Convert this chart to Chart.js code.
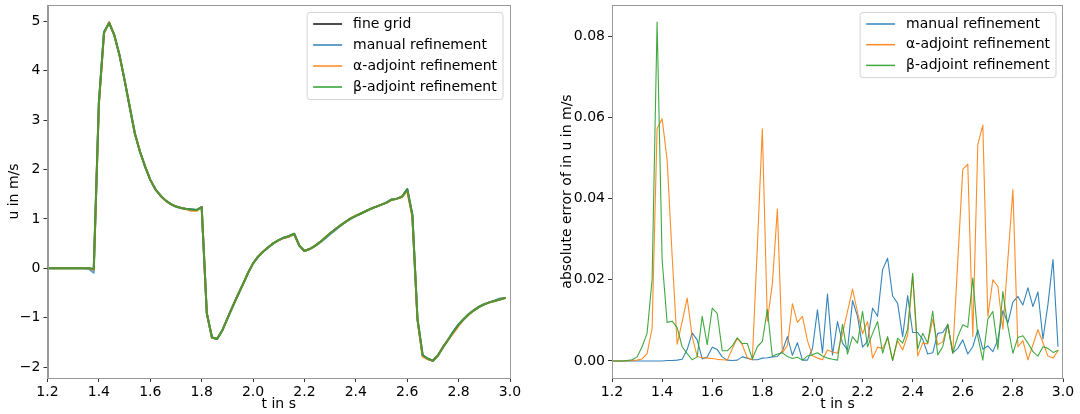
<!DOCTYPE html>
<html><head><meta charset="utf-8">
<script src="https://cdn.jsdelivr.net/npm/chart.js@4/dist/chart.umd.min.js"></script>
<style>
html,body{margin:0;padding:0;background:#fff;width:1080px;height:414px;overflow:hidden}
.c{position:absolute;top:0;width:540px;height:414px}
</style></head><body>
<div class="c" style="left:0"><canvas id="left" width="540" height="414"></canvas></div>
<div class="c" style="left:540px"><canvas id="right" width="540" height="414"></canvas></div>
<script>
// ---- data ----
const t = [1.20,1.22,1.24,1.26,1.28,1.30,1.32,1.34,1.36,1.38,1.40,1.42,1.44,1.46,1.48,1.50,1.52,1.54,1.56,1.58,
1.60,1.62,1.64,1.66,1.68,1.70,1.72,1.74,1.76,1.78,1.80,1.82,1.84,1.86,1.88,1.90,1.92,1.94,1.96,1.98,
2.00,2.02,2.04,2.06,2.08,2.10,2.12,2.14,2.16,2.18,2.20,2.22,2.24,2.26,2.28,2.30,2.32,2.34,2.36,2.38,
2.40,2.42,2.44,2.46,2.48,2.50,2.52,2.54,2.56,2.58,2.60,2.62,2.64,2.66,2.68,2.70,2.72,2.74,2.76,2.78,
2.80,2.82,2.84,2.86,2.88,2.90,2.92,2.94,2.96,2.98];

const uFine = [0,0,0,0,0,0,0,0,0,-0.02,3.35,4.78,4.97,4.72,4.32,3.81,3.27,2.73,2.36,2.06,
1.79,1.60,1.47,1.37,1.30,1.25,1.22,1.20,1.19,1.18,1.24,-0.91,-1.40,-1.43,-1.26,-1.02,-0.78,-0.55,-0.33,-0.10,
0.10,0.24,0.34,0.43,0.51,0.57,0.62,0.65,0.70,0.46,0.35,0.39,0.45,0.53,0.62,0.71,0.79,0.87,0.94,1.01,
1.06,1.11,1.16,1.21,1.25,1.29,1.33,1.39,1.41,1.45,1.60,1.08,-1.04,-1.76,-1.83,-1.87,-1.76,-1.59,-1.44,-1.28,
-1.14,-1.03,-0.93,-0.85,-0.78,-0.73,-0.69,-0.66,-0.63,-0.60];

const uManual = [0,0,0,0,0,0,0,0,-0.01,-0.09,3.35,4.78,4.97,4.72,4.32,3.81,3.25,2.73,2.36,2.06,
1.79,1.60,1.47,1.37,1.30,1.25,1.22,1.20,1.19,1.18,1.24,-0.91,-1.40,-1.43,-1.26,-1.02,-0.78,-0.55,-0.33,-0.10,
0.10,0.23,0.34,0.42,0.51,0.57,0.62,0.65,0.69,0.46,0.35,0.39,0.45,0.52,0.60,0.69,0.77,0.86,0.94,1.00,
1.06,1.11,1.16,1.21,1.25,1.29,1.34,1.40,1.41,1.45,1.60,1.08,-1.04,-1.76,-1.83,-1.87,-1.76,-1.59,-1.43,-1.28,
-1.13,-1.02,-0.92,-0.84,-0.77,-0.72,-0.69,-0.65,-0.61,-0.60];

const uAlpha = [0,0,0,0,0,0,0,0,0,-0.03,3.30,4.75,4.99,4.72,4.32,3.81,3.27,2.73,2.36,2.06,
1.79,1.60,1.47,1.37,1.30,1.25,1.22,1.20,1.16,1.16,1.24,-0.91,-1.41,-1.42,-1.26,-1.02,-0.78,-0.55,-0.33,-0.10,
0.10,0.24,0.34,0.43,0.51,0.57,0.61,0.64,0.69,0.46,0.35,0.39,0.45,0.53,0.62,0.71,0.79,0.87,0.94,1.01,
1.07,1.11,1.16,1.21,1.25,1.29,1.33,1.39,1.41,1.44,1.56,1.04,-1.04,-1.79,-1.84,-1.87,-1.76,-1.59,-1.44,-1.31,
-1.17,-1.03,-0.93,-0.85,-0.78,-0.73,-0.69,-0.66,-0.63,-0.60];

const uBeta = [0,0,0,0,0,0,0,0,0,-0.01,3.37,4.78,4.97,4.72,4.32,3.81,3.27,2.73,2.36,2.06,
1.79,1.60,1.47,1.37,1.30,1.25,1.22,1.20,1.19,1.18,1.24,-0.91,-1.40,-1.43,-1.26,-1.02,-0.78,-0.55,-0.33,-0.10,
0.10,0.24,0.34,0.43,0.51,0.57,0.62,0.65,0.70,0.46,0.35,0.39,0.45,0.53,0.62,0.71,0.79,0.87,0.94,1.01,
1.06,1.11,1.16,1.21,1.25,1.29,1.33,1.39,1.41,1.45,1.60,1.08,-1.02,-1.76,-1.83,-1.87,-1.76,-1.59,-1.44,-1.28,
-1.14,-1.03,-0.93,-0.85,-0.78,-0.73,-0.69,-0.66,-0.63,-0.60];

const errManual = [0,0,0,0,0,0,0,0,0,0,0,0.0001,0.0001,0.0002,0.0004,0.0028,0.0069,0.0052,0.0005,0.0010,
0.0034,0.0028,0.0010,0.0002,0.0001,0.0002,0.0010,0.0007,0.0003,0.0003,0.0007,0.0008,0.0010,0.0011,0.0024,0.0060,0.0014,0.0045,0.0002,0.0002,
0.0030,0.0126,0.0020,0.0165,0.0015,0.0097,0.0044,0.0027,0.0149,0.0110,0.0034,0.0048,0.0130,0.0110,0.0225,0.0253,0.0160,0.0142,0.0060,0.0161,
0.0070,0.0070,0.0053,0.0017,0.0020,0.0068,0.0070,0.0089,0.0020,0.0031,0.0052,0.0017,0.0035,0.0077,0.0029,0.0037,0.0023,0.0052,0.0124,0.0093,
0.0145,0.0159,0.0138,0.0180,0.0134,0.0170,0.0054,0.0140,0.0250,0.0036];

const errAlpha = [0,0,0,0,0.0001,0.0002,0.0005,0.0018,0.0080,0.0573,0.0597,0.0495,0.0260,0.0041,0.0097,0.0155,0.0060,0.0011,0.0008,0.0007,
0.0006,0.0004,0.0003,0.0002,0.0030,0.0056,0.0040,0.0008,0.0003,0.0280,0.0572,0.0098,0.0190,0.0374,0.0020,0.0038,0.0141,0.0095,0.0110,0.0050,
0.0013,0.0007,0.0003,0.0027,0.0022,0.0019,0.0068,0.0122,0.0177,0.0120,0.0067,0.0097,0.0007,0.0034,0.0031,0.0056,0.0002,0.0050,0.0027,0.0064,
0.0210,0.0012,0.0044,0.0042,0.0103,0.0040,0.0047,0.0090,0.0020,0.0246,0.0472,0.0485,0.0060,0.0533,0.0581,0.0110,0.0200,0.0184,0.0078,0.0250,
0.0422,0.0035,0.0050,0.0003,0.0040,0.0077,0.0045,0.0012,0.0007,0.0025];

const errBeta = [0,0,0,0.0001,0.0003,0.0010,0.0035,0.0068,0.0200,0.0835,0.0250,0.0095,0.0098,0.0082,0.0035,0.0018,0.0003,0.0010,0.0110,0.0040,
0.0130,0.0117,0.0025,0.0025,0.0037,0.0057,0.0043,0.0043,0.0005,0.0035,0.0048,0.0127,0.0011,0.0017,0.0020,0.0011,0.0006,0.0009,0.0002,0.0012,
0.0015,0.0020,0.0012,0.0007,0.0004,0.0002,0.0090,0.0017,0.0060,0.0044,0.0122,0.0035,0.0068,0.0097,0.0019,0.0060,0.0001,0.0056,0.0044,0.0078,
0.0216,0.0029,0.0068,0.0044,0.0123,0.0015,0.0035,0.0091,0.0019,0.0060,0.0089,0.0083,0.0204,0.0060,0.0002,0.0103,0.0122,0.0029,0.0171,0.0085,
0.0019,0.0058,0.0062,0.0044,0.0023,0.0012,0.0035,0.0031,0.0021,0.0026];

const xTicks = [1.2,1.4,1.6,1.8,2.0,2.2,2.4,2.6,2.8,3.0];
const uTicks = [-2,-1,0,1,2,3,4,5];
const errTicks = [0,0.02,0.04,0.06,0.08];
const leftLabels = ['fine grid','manual refinement','\u03B1-adjoint refinement','\u03B2-adjoint refinement'];
const rightLabels = ['manual refinement','\u03B1-adjoint refinement','\u03B2-adjoint refinement'];

// ---- rendering ----
const FONT = "'DejaVu Sans', sans-serif";
Chart.defaults.font.family = FONT;
Chart.defaults.font.size = 14;
Chart.defaults.color = '#000';

const pts = s => t.map((x,i)=>({x:x, y:s[i]}));
const minus = s => String(s).replace('-', '\u2212');

function legendPlugin(items, rowH){
  return {id:'lg', afterDraw(chart){
    const ctx = chart.ctx, a = chart.chartArea;
    ctx.save();
    ctx.strokeStyle = '#999'; ctx.lineWidth = 1;
    ctx.strokeRect(Math.round(a.left)+0.5, Math.round(a.top)+0.5, Math.round(a.right-a.left)-1, Math.round(a.bottom-a.top));
    ctx.font = '14px ' + FONT;
    const tw = Math.max(...items.map(it=>ctx.measureText(it.label).width));
    const w = 6 + 29 + 11 + tw + 6, h = items.length*rowH + 3;
    const x = a.right - 7 - w, y = a.top + 7.5;
    const r = 3;
    ctx.beginPath();
    ctx.moveTo(x+r,y); ctx.lineTo(x+w-r,y); ctx.arcTo(x+w,y,x+w,y+r,r);
    ctx.lineTo(x+w,y+h-r); ctx.arcTo(x+w,y+h,x+w-r,y+h,r);
    ctx.lineTo(x+r,y+h); ctx.arcTo(x,y+h,x,y+h-r,r);
    ctx.lineTo(x,y+r); ctx.arcTo(x,y,x+r,y,r); ctx.closePath();
    ctx.fillStyle = 'rgba(255,255,255,0.8)'; ctx.fill();
    ctx.strokeStyle = '#d4d4d4'; ctx.stroke();
    items.forEach((it,i)=>{
      const cy = y + 11.5 + i*rowH;
      ctx.strokeStyle = it.color; ctx.lineWidth = it.width;
      ctx.beginPath(); ctx.moveTo(x+6, cy); ctx.lineTo(x+35, cy); ctx.stroke();
      ctx.fillStyle = '#000'; ctx.textBaseline = 'middle'; ctx.textAlign = 'left';
      ctx.fillText(it.label, x+46, cy);
    });
    ctx.restore();
  }};
}

function scales(cfg){
  return {
    x:{type:'linear', min:1.2, max:3.0,
      afterFit(s){ s.height = 36; s.paddingLeft = 0; s.paddingRight = 0; },
      afterBuildTicks(s){ s.ticks = xTicks.map(v=>({value:v})); },
      ticks:{callback:v=>Number(v).toFixed(1), padding:2, maxRotation:0, autoSkip:false},
      grid:{display:true, drawOnChartArea:false, drawTicks:true, tickLength:4, tickColor:'#333'},
      border:{display:true, color:'#999'},
      title:{display:true, text:'t in s', padding:{top:0,bottom:1}}},
    y:{type:'linear', min:cfg.ymin, max:cfg.ymax,
      afterFit(s){ s.width = cfg.yw; s.paddingTop = 0; s.paddingBottom = 0; },
      afterBuildTicks(s){ s.ticks = cfg.ticks.map(v=>({value:v})); },
      ticks:{callback:cfg.fmt, padding:3, autoSkip:false},
      grid:{display:true, drawOnChartArea:false, drawTicks:true, tickLength:4, tickColor:'#333'},
      border:{display:true, color:'#999'},
      title:{display:true, text:cfg.title, padding:{top:cfg.tpad,bottom:0}}}
  };
}

const C = {
  k:'rgba(0,0,0,0.7)', b:'rgba(31,119,180,0.7)', o:'rgba(255,127,14,0.7)', g:'rgba(44,160,44,0.75)',
  b2:'rgba(31,119,180,0.9)', o2:'rgba(255,127,14,0.9)', g2:'rgba(44,160,44,0.9)'
};

const base = {responsive:false, animation:false, devicePixelRatio:1,
  plugins:{legend:{display:false}, tooltip:{enabled:false}},
  elements:{point:{radius:0}, line:{tension:0, borderJoinStyle:'round', borderCapStyle:'round'}}};

new Chart(document.getElementById('left'), {
  type:'line',
  data:{datasets:[
    {label:leftLabels[0], data:pts(uFine), borderColor:C.k, borderWidth:2, order:4},
    {label:leftLabels[1], data:pts(uManual), borderColor:C.b, borderWidth:2, order:3},
    {label:leftLabels[2], data:pts(uAlpha), borderColor:C.o, borderWidth:2, order:2},
    {label:leftLabels[3], data:pts(uBeta), borderColor:C.g, borderWidth:2, order:1}
  ]},
  options:Object.assign({}, base, {
    layout:{padding:{left:0, right:30, top:5, bottom:0}},
    scales:scales({ymin:-2.22, ymax:5.33, yw:47.5, ticks:uTicks, fmt:v=>minus(v), title:'u in m/s', tpad:6})
  }),
  plugins:[legendPlugin([
    {label:leftLabels[0], color:C.k, width:2},
    {label:leftLabels[1], color:C.b, width:2},
    {label:leftLabels[2], color:C.o, width:2},
    {label:leftLabels[3], color:C.g, width:2}], 21)]
});

new Chart(document.getElementById('right'), {
  type:'line',
  data:{datasets:[
    {label:rightLabels[0], data:pts(errManual), borderColor:C.b2, borderWidth:1.1, order:3},
    {label:rightLabels[1], data:pts(errAlpha), borderColor:C.o2, borderWidth:1.1, order:2},
    {label:rightLabels[2], data:pts(errBeta), borderColor:C.g2, borderWidth:1.1, order:1}
  ]},
  options:Object.assign({}, base, {
    layout:{padding:{left:13, right:17, top:5, bottom:0}},
    scales:scales({ymin:-0.0042, ymax:0.0877, yw:59, ticks:errTicks, fmt:v=>Number(v).toFixed(2), title:'absolute error of in u in m/s', tpad:6})
  }),
  plugins:[legendPlugin([
    {label:rightLabels[0], color:C.b2, width:1.5},
    {label:rightLabels[1], color:C.o2, width:1.5},
    {label:rightLabels[2], color:C.g2, width:1.5}], 20.7)]
});
</script>
</body></html>
